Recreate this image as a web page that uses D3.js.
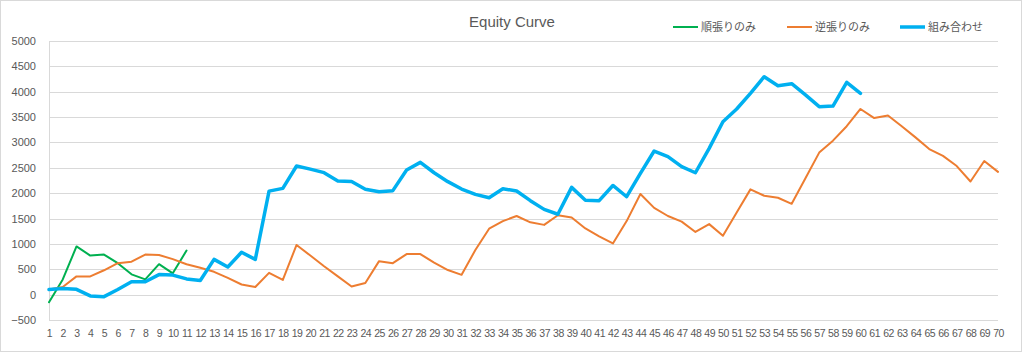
<!DOCTYPE html>
<html>
<head>
<meta charset="utf-8">
<script src="https://cdn.jsdelivr.net/npm/d3@7"></script>
<style>
  body { margin: 0; background: #fff; }
  svg { display: block; }
</style>
</head>
<body>
<script>
var w = 1024;
var h = 353;

// data
var categories = d3.range(1, 71);
var trendOnly = [-150, 300, 950, 770, 790, 620, 400, 300, 600, 420, 870];
var contraOnly = [100, 150, 360, 360, 480, 620, 650, 790, 780, 700,
                  600, 530, 450, 330, 200, 150, 430, 290, 980, 770,
                  560, 360, 160, 230, 660, 620, 800, 800, 630, 485,
                  390, 880, 1300, 1450, 1550, 1425, 1375, 1565, 1520, 1305,
                  1150, 1010, 1450, 1985, 1710, 1550, 1440, 1235, 1390, 1160,
                  1620, 2075, 1950, 1910, 1790, 2295, 2800, 3035, 3320, 3660,
                  3480, 3530, 3320, 3100, 2870, 2735, 2535, 2230, 2635, 2420];
var combined = [100, 120, 105, -25, -40, 100, 255, 255, 395, 385,
                310, 280, 695, 545, 835, 695, 2040, 2095, 2535, 2475,
                2405, 2240, 2230, 2078, 2030, 2050, 2456, 2607, 2403, 2227,
                2082, 1977, 1911, 2088, 2042, 1852, 1681, 1585, 2115, 1862,
                1852, 2152, 1930, 2390, 2831, 2719, 2522, 2403, 2884, 3409,
                3659, 3968, 4296, 4118, 4158, 3937, 3705, 3718, 4185, 3968];
var yTicks = [-500, 0, 500, 1000, 1500, 2000, 2500, 3000, 3500, 4000, 4500, 5000];
var seriesNames = ["順張りのみ", "逆張りのみ", "組み合わせ"];
var seriesColors = ["#00B050", "#ED7D31", "#00B0F0"];
var seriesWidths = [2, 2, 3.5];
var seriesData = [trendOnly, contraOnly, combined];

var plotLeft = 49, plotRight = 998, plotTop = 41, plotBottom = 320;

var svg = d3.select("body").append("svg")
    .attr("width", w)
    .attr("height", h);

svg.append("rect")
    .attr("x", 0.5).attr("y", 0.5)
    .attr("width", w - 3).attr("height", h - 2)
    .attr("fill", "#fff")
    .attr("stroke", "#D9D9D9");

var xScale = d3.scalePoint()
    .domain(categories)
    .range([plotLeft, plotRight]);

var yScale = d3.scaleLinear()
    .domain([-500, 5000])
    .range([plotBottom, plotTop]);

// grid
svg.append("g")
    .selectAll("line")
    .data(yTicks)
    .enter()
    .append("line")
    .attr("x1", plotLeft)
    .attr("x2", plotRight)
    .attr("y1", function(d){ return Math.round(yScale(d)) + 0.5; })
    .attr("y2", function(d){ return Math.round(yScale(d)) + 0.5; })
    .attr("stroke", "#D9D9D9")
    .attr("stroke-width", 1);

svg.append("line")
    .attr("x1", plotLeft + 0.5).attr("x2", plotLeft + 0.5)
    .attr("y1", plotTop).attr("y2", plotBottom)
    .attr("stroke", "#D9D9D9");

var yAxis = d3.axisLeft(yScale)
    .tickValues(yTicks)
    .tickFormat(d3.format("d"))
    .tickSize(0)
    .tickPadding(13);

var gy = svg.append("g")
    .attr("transform", "translate(" + plotLeft + ",0)")
    .call(yAxis);
gy.select(".domain").remove();
gy.selectAll("text")
    .attr("fill", "#595959")
    .style("font-family", "Liberation Sans, Arial, sans-serif")
    .style("font-size", "11px");

var xAxis = d3.axisBottom(xScale)
    .tickSize(0)
    .tickPadding(10);

var gx = svg.append("g")
    .attr("transform", "translate(0," + plotBottom + ")")
    .call(xAxis);
gx.select(".domain").remove();
gx.selectAll("text")
    .attr("fill", "#595959")
    .style("font-family", "Liberation Sans, Arial, sans-serif")
    .style("font-size", "10.5px")
    .style("letter-spacing", "-0.5px");

var line = d3.line()
    .x(function(d, i){ return xScale(categories[i]); })
    .y(function(d){ return yScale(d); });

svg.append("g")
    .selectAll("path")
    .data(seriesData)
    .enter()
    .append("path")
    .attr("d", line)
    .attr("fill", "none")
    .attr("stroke", function(d, i){ return seriesColors[i]; })
    .attr("stroke-width", function(d, i){ return seriesWidths[i]; })
    .attr("stroke-linejoin", "round")
    .attr("stroke-linecap", "round");

svg.append("text")
    .text("Equity Curve")
    .attr("x", 512)
    .attr("y", 27)
    .attr("text-anchor", "middle")
    .attr("fill", "#595959")
    .style("font-family", "Liberation Sans, Arial, sans-serif")
    .style("font-size", "15px");

var legendX = [673, 787, 900];
var legend = svg.append("g")
    .selectAll("g")
    .data(seriesNames)
    .enter()
    .append("g")
    .attr("transform", function(d, i){ return "translate(" + legendX[i] + ",27)"; });

legend.append("line")
    .attr("x1", 0).attr("x2", 25)
    .attr("y1", 0).attr("y2", 0)
    .attr("stroke", function(d, i){ return seriesColors[i]; })
    .attr("stroke-width", function(d, i){ return seriesWidths[i]; });

legend.append("text")
    .text(function(d){ return d; })
    .attr("x", 28)
    .attr("y", 4)
    .attr("fill", "#595959")
    .style("font-family", "Noto Sans CJK JP, sans-serif")
    .style("font-size", "11px");
</script>
</body>
</html>
